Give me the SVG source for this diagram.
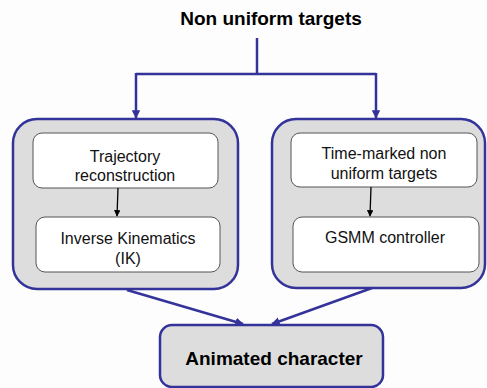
<svg xmlns="http://www.w3.org/2000/svg" width="487" height="388" viewBox="0 0 487 388">
<defs>
<style>
.outer{fill:#dddddd;stroke:#333399;stroke-width:2.5}
.inner{fill:#ffffff;stroke:#555555;stroke-width:1}
.t{font-family:"Liberation Sans",Arial,sans-serif;font-size:16px;fill:#111;text-anchor:middle}
.b{font-family:"Liberation Sans",Arial,sans-serif;font-size:19px;font-weight:bold;fill:#000;text-anchor:middle}
.blue{fill:none;stroke:#333399;stroke-width:2.5}
.blk{fill:none;stroke:#000;stroke-width:1.3}
</style>
<marker id="ab" viewBox="0 0 10 10" refX="9" refY="5" markerWidth="3.4" markerHeight="3.4" orient="auto" markerUnits="strokeWidth"><path d="M0,0 L10,5 L0,10 z" fill="#333399"/></marker>
<marker id="ak" viewBox="0 0 10 10" refX="9" refY="5" markerWidth="5" markerHeight="5" orient="auto" markerUnits="strokeWidth"><path d="M0,0 L10,5 L0,10 z" fill="#000"/></marker>
</defs>
<rect width="487" height="388" fill="#fdfdfd"/>
<g id="title"><text class="b" x="271" y="25">Non uniform targets</text></g>
<g id="left-group">
<rect class="outer" x="13" y="119" width="225" height="170" rx="24"/>
</g>
<g id="right-group">
<rect class="outer" x="272" y="119" width="213" height="169" rx="24"/>
</g>
<g id="traj">
<rect class="inner" x="33" y="133" width="185" height="55" rx="9"/>
<text class="t" x="125" y="162">Trajectory</text>
<text class="t" x="125" y="181">reconstruction</text>
</g>
<g id="ik">
<rect class="inner" x="36" y="217" width="184" height="55" rx="9"/>
<text class="t" x="128" y="244">Inverse Kinematics</text>
<text class="t" x="128" y="264">(IK)</text>
</g>
<g id="timemarked">
<rect class="inner" x="291" y="133" width="186" height="54" rx="9"/>
<text class="t" x="384" y="159">Time-marked non</text>
<text class="t" x="384" y="179">uniform targets</text>
</g>
<g id="gsmm">
<rect class="inner" x="293" y="217" width="186" height="55" rx="9"/>
<text class="t" x="385" y="243">GSMM controller</text>
</g>
<g id="animated">
<rect class="outer" x="160" y="325" width="223" height="62" rx="12"/>
<text class="b" x="274" y="365">Animated character</text>
</g>
<g id="connectors">
<path class="blue" d="M257,38 V74"/>
<path class="blue" d="M136,74 H376"/>
<path class="blue" d="M136,73 V118" marker-end="url(#ab)"/>
<path class="blue" d="M376,73 V118" marker-end="url(#ab)"/>
<path class="blk" d="M118,188 L117,216" marker-end="url(#ak)"/>
<path class="blk" d="M371,187 L370,216" marker-end="url(#ak)"/>
<path class="blue" d="M127,290 L243,324" marker-end="url(#ab)"/>
<path class="blue" d="M372,288 L272,324" marker-end="url(#ab)"/>
</g>
</svg>
